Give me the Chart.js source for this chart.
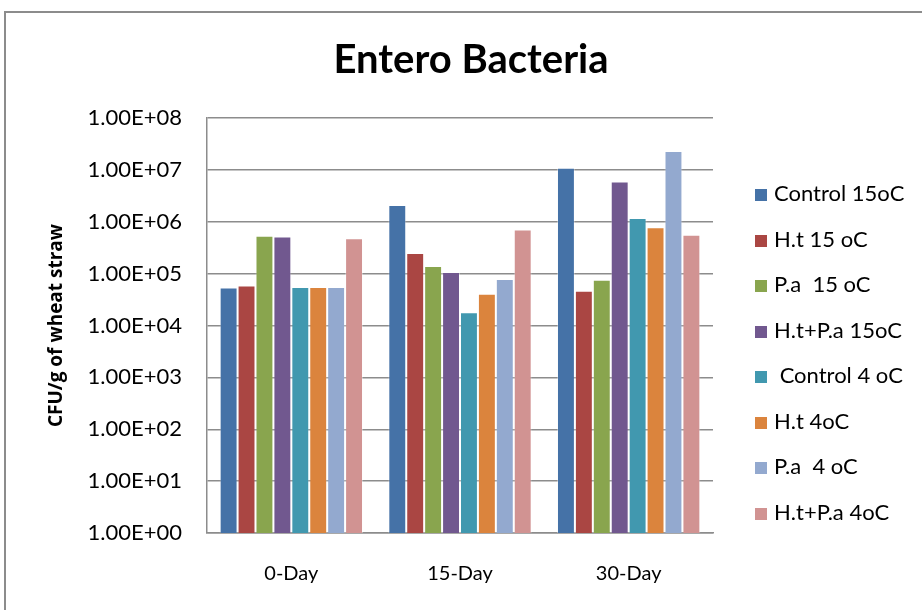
<!DOCTYPE html>
<html>
<head>
<meta charset="utf-8">
<script src="https://cdn.jsdelivr.net/npm/chart.js@4"></script>
<style>
  body { margin: 0; background: #fff; }
  #wrap { position: relative; width: 922px; height: 610px; overflow: hidden; }
  #frame { position: absolute; left: 4px; top: 11px; width: 940px; height: 640px; border: 2px solid #8c8c8c; box-sizing: border-box; }
  #legend { position: absolute; left: 755px; top: 178px; font-family: Lato, sans-serif; font-size: 22px; color: #000; }
  #legend div { height: 45.5px; line-height: 30px; white-space: pre; }
  #legend span.box { display: inline-block; width: 12px; height: 12px; margin-right: 7px; vertical-align: 0px; }
</style>
</head>
<body>
<div id="wrap">
  <div id="frame"></div>
  <canvas id="chart" width="922" height="610"></canvas>
  <div id="legend"></div>
</div>
<script>
// categories and series
const categories = ['0-Day', '15-Day', '30-Day'];
const seriesNames = ['Control 15oC', 'H.t 15 oC', 'P.a  15 oC', 'H.t+P.a 15oC', ' Control 4 oC', 'H.t 4oC', 'P.a  4 oC', 'H.t+P.a 4oC'];
const seriesColors = ['#4572A7', '#AA4643', '#89A54E', '#71588F', '#4198AF', '#DB843D', '#93A9CF', '#D19392'];

// values (CFU/g)
const control15 = [5.4e4, 2.1e6, 1.1e7];
const ht15 = [5.9e4, 2.5e5, 4.7e4];
const pa15 = [5.4e5, 1.4e5, 7.6e4];
const htpa15 = [5.2e5, 1.07e5, 6.0e6];
const control4 = [5.5e4, 1.8e4, 1.18e6];
const ht4 = [5.5e4, 4.1e4, 7.8e5];
const pa4 = [5.5e4, 7.9e4, 2.3e7];
const htpa4 = [4.8e5, 7.1e5, 5.6e5];

// y axis ticks
const tickValues = [1, 1e1, 1e2, 1e3, 1e4, 1e5, 1e6, 1e7, 1e8];
const tickLabels = ['1.00E+00', '1.00E+01', '1.00E+02', '1.00E+03', '1.00E+04', '1.00E+05', '1.00E+06', '1.00E+07', '1.00E+08'];

const seriesData = [control15, ht15, pa15, htpa15, control4, ht4, pa4, htpa4];

const datasets = seriesData.map((d, i) => ({
    label: seriesNames[i],
    data: d,
    backgroundColor: seriesColors[i],
    borderColor: 'rgba(255,255,255,0.35)',
    borderWidth: 1,
    barPercentage: 1.0,
    categoryPercentage: 0.85
}));

const gridColor = '#8c8c8c';

new Chart(document.getElementById('chart').getContext('2d'), {
    type: 'bar',
    data: { labels: categories, datasets: datasets },
    options: {
        responsive: false,
        animation: false,
        layout: { padding: { left: 20, right: 0, top: 0, bottom: 0 } },
        plugins: {
            legend: { display: false },
            tooltip: { enabled: false },
            title: {
                display: true,
                text: 'Entero Bacteria',
                color: '#000',
                font: { family: 'Lato', size: 40, weight: 'bold' },
                padding: { top: 36, bottom: 34 }
            }
        },
        scales: {
            x: {
                grid: { display: false, drawTicks: false },
                border: { display: true, color: gridColor, width: 1.5 },
                ticks: { color: '#000', font: { family: 'Lato', size: 20 }, padding: 29 },
                afterFit: function(scale) { scale.height = 77; }
            },
            y: {
                type: 'logarithmic',
                min: 1,
                max: 1e8,
                afterBuildTicks: function(scale) {
                    scale.ticks = tickValues.map(v => ({ value: v }));
                },
                grid: { color: gridColor, lineWidth: 1.5, drawTicks: false },
                border: { display: true, color: gridColor, width: 1.5 },
                ticks: {
                    color: '#000',
                    font: { family: 'Lato', size: 22 },
                    padding: 25,
                    callback: function(value) {
                        const i = tickValues.indexOf(value);
                        return i >= 0 ? tickLabels[i] : '';
                    }
                },
                title: {
                    display: true,
                    text: 'CFU/g of wheat straw',
                    color: '#000',
                    font: { family: 'Open Sans', size: 19, weight: 'bold' },
                    padding: { top: 25, bottom: 17 }
                },
                afterFit: function(scale) { scale.width = 187; }
            },
            // empty right axis that keeps room for the legend
            yRight: {
                position: 'right',
                display: true,
                grid: { display: false, drawTicks: false },
                border: { display: false },
                ticks: { display: false },
                afterFit: function(scale) { scale.width = 209; }
            }
        }
    }
});

// legend drawn as html next to the chart
const legend = document.getElementById('legend');
seriesNames.forEach((name, i) => {
    const row = document.createElement('div');
    const box = document.createElement('span');
    box.className = 'box';
    box.style.background = seriesColors[i];
    row.appendChild(box);
    row.appendChild(document.createTextNode(name));
    legend.appendChild(row);
});
</script>
</body>
</html>
